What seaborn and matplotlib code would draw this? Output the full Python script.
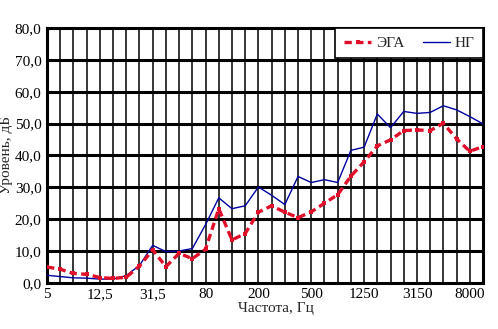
"""Spectrum levels of two sources in 1/3-octave bands."""
import numpy as np
import pandas as pd
import seaborn as sns
import matplotlib
matplotlib.use("Agg")
import matplotlib.pyplot as plt
from matplotlib.ticker import FuncFormatter

bands = ['5', '6,3', '8', '10', '12,5', '16', '20', '25', '31,5', '40', '50',
         '63', '80', '100', '125', '160', '200', '250', '315', '400', '500',
         '630', '800', '1000', '1250', '1600', '2000', '2500', '3150', '4000',
         '5000', '6300', '8000', '10000']
ega = [5.0, 4.3, 3.0, 2.7, 1.7, 1.4, 1.8, 5.3, 10.4, 5.1, 9.3, 7.6, 10.6,
       23.3, 13.5, 15.5, 22.2, 24.2, 22.2, 20.5, 22.3, 25.0, 27.7, 33.5,
       38.0, 43.0, 44.9, 47.8, 48.0, 47.8, 50.1, 45.2, 41.3, 42.8]
ng = [2.4, 2.0, 1.6, 1.5, 1.2, 1.2, 2.3, 5.5, 11.8, 9.8, 10.0, 10.8, 18.3,
      26.7, 23.3, 24.2, 30.1, 27.5, 24.6, 33.4, 31.5, 32.4, 31.5, 41.6,
      42.6, 53.0, 48.7, 53.8, 53.2, 53.5, 55.6, 54.3, 52.2, 49.9]
labelled = ['5', '12,5', '31,5', '80', '200', '500', '1250', '3150', '8000']

df = pd.DataFrame({'band': np.arange(len(bands)), 'ЭГА': ega, 'НГ': ng})

sns.set_style("white")
plt.rcParams['font.family'] = ['Liberation Serif', 'DejaVu Serif']

fig = plt.figure(figsize=(4.98, 3.29), dpi=100)
ax = fig.add_axes([0.0944, 0.140, 0.8755, 0.775])

sns.lineplot(data=df, x='band', y='ЭГА', ax=ax, color='#e0102a',
             linewidth=2.4, linestyle=(0, (2.2, 1.3)), marker='s',
             markersize=3, markeredgewidth=0, label='ЭГА', zorder=4)
sns.lineplot(data=df, x='band', y='НГ', ax=ax, color='#0000a0',
             linewidth=1.0, label='НГ', zorder=3)

ax.set_xlim(0, len(bands) - 1)
ax.set_ylim(0, 80)
ax.set_yticks(np.arange(0, 81, 10))
ax.yaxis.set_major_formatter(FuncFormatter(lambda v, _: f"{v:.1f}".replace('.', ',')))
ax.set_xticks(np.arange(len(bands)))
ax.set_xticklabels([b if b in labelled else '' for b in bands])

# grid: heavy horizontals, thin verticals
for v in range(10, 80, 10):
    ax.axhline(v, color='black', linewidth=2.2, zorder=1)
for i in range(1, len(bands) - 1):
    ax.axvline(i, color='black', linewidth=1.1, zorder=1)

for sp in ax.spines.values():
    sp.set_color('black')
    sp.set_linewidth(2.2)

ax.tick_params(axis='x', direction='inout', length=6, width=1, pad=1,
               labelsize=11, colors='black')
ax.tick_params(axis='y', direction='out', length=3, width=1, pad=1,
               labelsize=11, colors='black')

ax.set_xlabel('Частота, Гц', fontsize=11, labelpad=-1)
ax.xaxis.set_label_coords(0.525, -0.075)
ax.set_ylabel('Уровень, дБ', fontsize=11, labelpad=1)

leg = ax.legend(loc='upper right', ncol=2, frameon=True, fancybox=False,
                fontsize=11, borderaxespad=0, handlelength=1.8,
                handletextpad=0.3, columnspacing=1.2, borderpad=0.55)
leg.get_frame().set_edgecolor('black')
leg.get_frame().set_linewidth(1.2)
leg.get_frame().set_alpha(1)

fig.savefig('out.png', dpi=100)
